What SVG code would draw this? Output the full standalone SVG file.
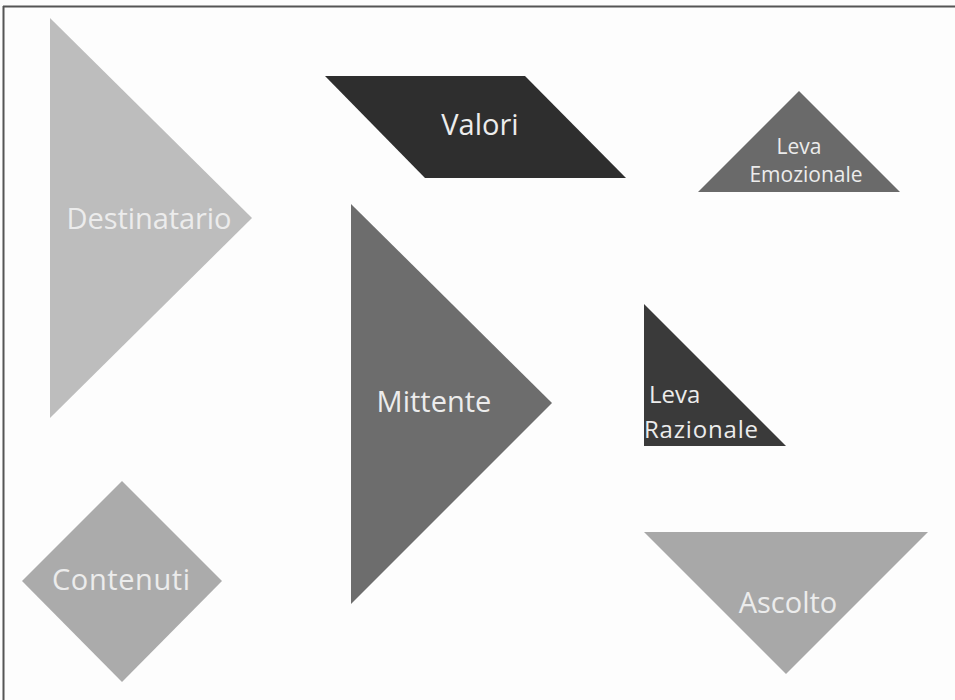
<svg xmlns="http://www.w3.org/2000/svg" width="955" height="700" viewBox="0 0 955 700">
<style>
.lbl{font-family:"Open Sans","Noto Sans","Liberation Sans",sans-serif;fill:#ececec;}
.big{font-size:29px;}
.mid{font-size:21px;}
.raz{font-size:24px;}
</style>
<rect x="0" y="0" width="955" height="700" fill="#fdfdfd"/>
<line x1="3" y1="6.5" x2="955" y2="6.5" stroke="#555" stroke-width="2"/>
<line x1="3.5" y1="6" x2="3.5" y2="700" stroke="#555" stroke-width="2"/>
<g id="destinatario">
<polygon points="50,18 252,218 50,418" fill="#bdbdbd"/>
<text class="lbl big" x="149" y="229" text-anchor="middle" textLength="165">Destinatario</text>
</g>
<g id="valori">
<polygon points="325,76 525,76 626,178 425,178" fill="#2e2e2e"/>
<text class="lbl big" x="480" y="135" text-anchor="middle">Valori</text>
</g>
<g id="leva-emozionale">
<polygon points="799,91 900,192 698,192" fill="#6a6a6a"/>
<text class="lbl mid" x="799" y="154" text-anchor="middle">Leva</text>
<text class="lbl mid" x="806" y="182" text-anchor="middle">Emozionale</text>
</g>
<g id="mittente">
<polygon points="351,204 552,403 351,604" fill="#6d6d6d"/>
<text class="lbl big" x="434" y="412" text-anchor="middle">Mittente</text>
</g>
<g id="leva-razionale">
<polygon points="644,304 786,446 644,446" fill="#3a3a3a"/>
<text class="lbl raz" x="649" y="403">Leva</text>
<text class="lbl raz" x="644" y="438" textLength="114">Razionale</text>
</g>
<g id="contenuti">
<polygon points="122,481 222,581 122,682 22,581" fill="#ababab"/>
<text class="lbl big" x="121" y="590" text-anchor="middle" textLength="138">Contenuti</text>
</g>
<g id="ascolto">
<polygon points="644,532 928,532 786,674" fill="#a8a8a8"/>
<text class="lbl big" x="788" y="613" text-anchor="middle">Ascolto</text>
</g>
<g id="connectors"/>
</svg>
